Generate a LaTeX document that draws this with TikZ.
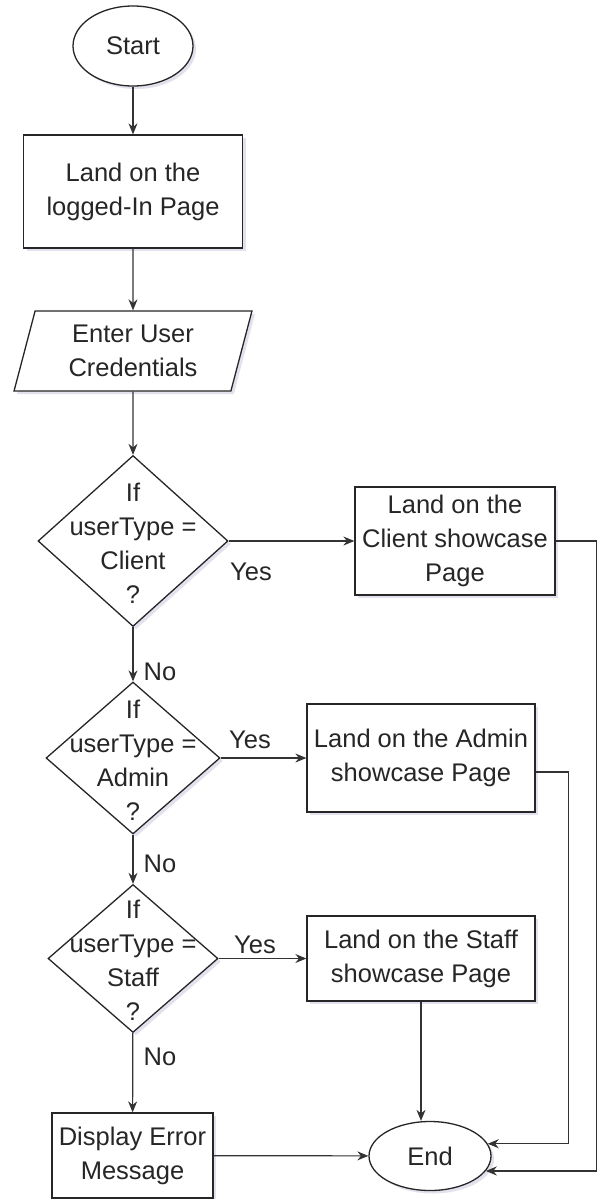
\documentclass[tikz,border=0pt]{standalone}
\usepackage{fontspec}
\setmainfont{Liberation Sans}
\usetikzlibrary{shapes.geometric,arrows.meta,shadows}

\begin{document}
\begin{tikzpicture}[x=1pt,y=-1pt,
  every node/.style={font=\fontsize{25.5}{34}\selectfont, text=black!85},
  shp/.style={draw=black!85, line width=1.3pt, fill=white,
    drop shadow={shadow xshift=3pt, shadow yshift=-3pt, opacity=0.18, fill=blue!25!gray}},
  proc/.style={shp, rectangle, align=center, inner sep=0pt},
  term/.style={shp, ellipse, inner sep=0pt},
  io/.style={shp, trapezium, trapezium left angle=75, trapezium right angle=105,
    trapezium stretches=true, align=center, inner sep=0pt},
  decision/.style={shp, diamond, inner sep=0pt},
  dtext/.style={align=center, inner sep=0pt},
  lbl/.style={inner sep=0pt},
  flow/.style={draw=black!80, line width=1.2pt, -{Stealth[length=11pt,width=9pt]}},
]
\useasboundingbox (0,0) rectangle (597,1199);

% main column
\node[term, minimum width=120pt, minimum height=80pt] (start) at (133,46) {Start};
\node[proc, minimum width=219pt, minimum height=113pt] (login) at (133,191.5) {Land on the\\logged-In Page};
\node[io, minimum width=238pt, minimum height=80pt] (cred) at (133,351) {Enter User\\Credentials};

\node[decision, minimum width=190pt, minimum height=171pt] (d1) at (133,541) {};
\node[dtext] (d1t) at (133,543) {If\\userType =\\Client\\?};

\node[decision, minimum width=174pt, minimum height=152pt] (d2) at (133,758) {};
\node[dtext] (d2t) at (133,760) {If\\userType =\\Admin\\?};

\node[decision, minimum width=170pt, minimum height=148pt] (d3) at (133,958.5) {};
\node[dtext] (d3t) at (133,960) {If\\userType =\\Staff\\?};

\node[proc, minimum width=161pt, minimum height=85pt] (err) at (132.5,1155.5) {Display Error\\Message};

% landing pages
\node[proc, minimum width=200pt, minimum height=108pt] (client) at (455,541) {Land on the\\Client showcase\\Page};
\node[proc, minimum width=228pt, minimum height=108pt] (admin) at (421,758) {Land on the Admin\\showcase Page};
\node[proc, minimum width=228pt, minimum height=85pt] (staff) at (421,958.5) {Land on the Staff\\showcase Page};

\node[term, minimum width=122pt, minimum height=69pt] (end) at (430,1156) {End};

% connectors
\draw[flow] (start) -- (login);
\draw[flow] (login) -- (cred);
\draw[flow] (cred) -- (d1);
\draw[flow] (d1) -- (client);
\draw[flow] (d1) -- (d2);
\draw[flow] (d2) -- (admin);
\draw[flow] (d2) -- (d3);
\draw[flow] (d3) -- (staff);
\draw[flow] (d3) -- (err);
\draw[flow] (err) -- (end);
\draw[flow] (staff.south) -- (staff.south |- end.north);
\draw[flow] ([yshift=-14pt]admin.east) -- ++(33,0) |- (end.12);
\draw[flow] (client.east) -- ++(41,0) |- (end.-15);

% branch labels
\node[lbl] (y1) at (251,572) {Yes};
\node[lbl] (y2) at (250,740) {Yes};
\node[lbl] (y3) at (255,945) {Yes};
\node[lbl] (n1) at (160,672) {No};
\node[lbl] (n2) at (160,864) {No};
\node[lbl] (n3) at (160,1057) {No};
\end{tikzpicture}
\end{document}
